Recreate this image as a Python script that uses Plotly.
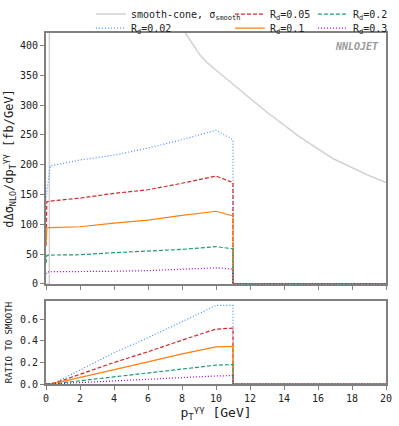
import plotly.graph_objects as go
from plotly.subplots import make_subplots

# top panel: dDelta sigma / dpT  [fb/GeV]
x_rd = [0, 0.05, 0.25, 2, 4, 6, 8, 10, 11, 11, 20]
rd002 = [140, 155, 198, 208, 216, 228, 242, 258, 242, 0, 0]
rd005 = [64, 138, 139, 144, 152, 158, 169, 181, 170, 0, 0]
rd01 = [65, 94, 94.5, 96, 102, 107, 115, 122, 114, 0, 0]
rd02 = [35, 48, 48.5, 49, 52.5, 55, 58, 62.6, 59, 0, 0]
rd03 = [17, 20, 20.5, 20.7, 21.3, 22.4, 24.6, 27, 25, 0, 0]

x_smooth = [0, 0.2, 0.2, 2, 4, 6, 7, 7.6, 8.2, 9.06, 9.45, 11, 13, 14.9, 16.9, 18.9, 20]
smooth = [0, 0, 3000, 1500, 800, 560, 490, 455, 421, 384, 372, 335, 288, 247, 210, 183, 170]

# bottom panel: ratio to smooth
x_ratio = [0, 0.5, 1, 2, 4, 6, 8, 9, 10, 11, 11, 20]
r002 = [0, 0.01, 0.05, 0.13, 0.29, 0.43, 0.58, 0.66, 0.73, 0.73, 0, 0]
r005 = [0, 0.01, 0.035, 0.09, 0.2, 0.3, 0.41, 0.46, 0.51, 0.52, 0, 0]
r01 = [0, 0.005, 0.025, 0.06, 0.135, 0.205, 0.28, 0.31, 0.345, 0.35, 0, 0]
r02 = [0, 0, 0.012, 0.03, 0.07, 0.105, 0.14, 0.16, 0.175, 0.18, 0, 0]
r03 = [0, 0, 0.005, 0.013, 0.03, 0.045, 0.06, 0.068, 0.075, 0.078, 0, 0]

# name, top values, ratio values, colour, dash, legend slot
series = [
    ("R<sub>d</sub>=0.02", rd002, r002, "#4a90e2", "1px,2px", "legend2"),
    ("R<sub>d</sub>=0.05", rd005, r005, "#d62728", "4px,2px", "legend3"),
    ("R<sub>d</sub>=0.1", rd01, r01, "#ff7f0e", "solid", "legend4"),
    ("R<sub>d</sub>=0.2", rd02, r02, "#1a9e6e", "4px,2px", "legend5"),
    ("R<sub>d</sub>=0.3", rd03, r03, "#9400d3", "1px,2px", "legend6"),
]

font = "DejaVu Sans Mono"
frame = "#808080"

fig = make_subplots(rows=2, cols=1, shared_xaxes=False, vertical_spacing=0.05,
                    row_heights=[0.75, 0.25])

fig.add_trace(go.Scatter(x=x_smooth, y=smooth, mode="lines", name="smooth-cone, σ<sub>smooth</sub>",
                         line=dict(color="#d0d0d0", width=1.5), legend="legend"), row=1, col=1)

for name, top, rat, color, dash, lg in series:
    fig.add_trace(go.Scatter(x=x_rd, y=top, mode="lines", name=name, legend=lg,
                             line=dict(color=color, width=1.2, dash=dash)), row=1, col=1)
    fig.add_trace(go.Scatter(x=x_ratio, y=rat, mode="lines", name=name, showlegend=False,
                             line=dict(color=color, width=1.2, dash=dash)), row=2, col=1)

axis_common = dict(showgrid=False, zeroline=False, showline=True, linecolor=frame, linewidth=2,
                   mirror=True, ticks="outside", ticklen=4, tickcolor=frame, automargin=False,
                   tickfont=dict(family=font, size=10, color="#222"))

fig.update_xaxes(range=[0, 20], dtick=2, **axis_common)
fig.update_xaxes(showticklabels=False, row=1, col=1)
fig.update_xaxes(title=dict(text="p<sub>T</sub><sup>γγ</sup> [GeV]", font=dict(family=font, size=13, color="#222"),
                            standoff=2), row=2, col=1)
fig.update_yaxes(range=[0, 421], dtick=50, row=1, col=1, **axis_common,
                 title=dict(text="dΔσ<sub>NLO</sub>/dp<sub>T</sub><sup>γγ</sup> [fb/GeV]",
                            font=dict(family=font, size=12, color="#222"), standoff=4))
fig.update_yaxes(range=[0, 0.77], tickvals=[0, 0.2, 0.4, 0.6], ticktext=["0.0", "0.2", "0.4", "0.6"],
                 row=2, col=1, **axis_common,
                 title=dict(text="RATIO TO SMOOTH", font=dict(family=font, size=9, color="#222"), standoff=6))

fig.update_layout(xaxis=dict(domain=[0, 1]), yaxis=dict(domain=[0.285, 1]),
                  yaxis2=dict(domain=[0, 0.236]))

# six single-entry legends placed in a 3x2 grid above the plot
leg = dict(orientation="v", yanchor="middle", xanchor="left", bgcolor="rgba(0,0,0,0)",
           font=dict(family=font, size=10, color="#222"), itemwidth=30)
row1, row2 = 1.054, 1.014
col1, col2, col3 = 0.132, 0.541, 0.785
fig.update_layout(
    legend=dict(leg, x=col1, y=row1),
    legend2=dict(leg, x=col1, y=row2),
    legend3=dict(leg, x=col2, y=row1),
    legend4=dict(leg, x=col2, y=row2),
    legend5=dict(leg, x=col3, y=row1),
    legend6=dict(leg, x=col3, y=row2),
)

fig.add_annotation(text="<b><i>NNLOJET</i></b>", xref="x domain", yref="y domain", x=0.985, y=0.975,
                   xanchor="right", yanchor="top", showarrow=False,
                   font=dict(family=font, size=10, color="#999"))

fig.update_layout(width=399, height=426, margin=dict(l=46, r=13, t=33, b=42, autoexpand=False),
                  paper_bgcolor="white", plot_bgcolor="white")

fig.write_html("out.html", config={"displayModeBar": False},
               post_script="document.body.style.margin='0px';")
